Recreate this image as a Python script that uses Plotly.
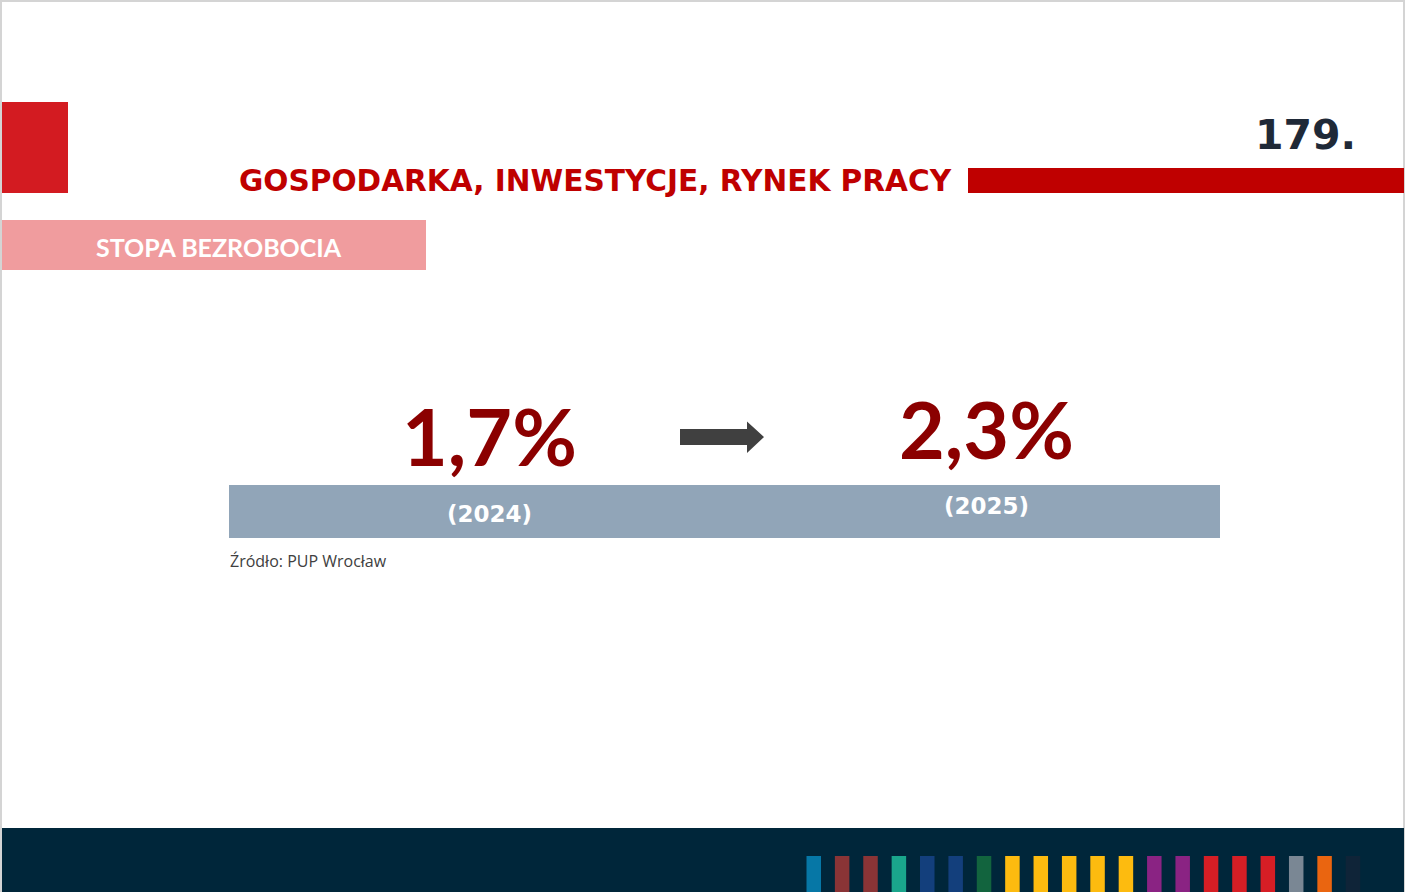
import plotly.graph_objects as go

# data
years = ["2024", "2025"]
rates = [1.7, 2.3]
section_title = "GOSPODARKA, INWESTYCJE, RYNEK PRACY"
page_no = "179."
subtitle = "STOPA BEZROBOCIA"
source = "Źródło: PUP Wrocław"
stripe_colors = ["#0677A6", "#8A3436", "#8A3436", "#1AA68C", "#133F7C", "#133F7C",
                 "#12643E", "#FDBB0F", "#FDBB0F", "#FDBB0F", "#FDBB0F", "#FDBB0F",
                 "#8A2383", "#8A2383", "#D61E25", "#D61E25", "#D61E25", "#7A8794",
                 "#EA6510", "#0F2438"]

W, H = 1405, 892
fig = go.Figure()

shapes = []
def rect(x0, y0, x1, y1, color):
    shapes.append(dict(type="rect", xref="x", yref="y", x0=x0, y0=y0, x1=x1, y1=y1,
                       fillcolor=color, line=dict(width=0), layer="below"))

# slide frame
rect(0, 0, 2, H, "#D4D4D4")
rect(0, 0, W, 2, "#D4D4D4")
rect(W - 2, 0, W, H, "#D4D4D4")
# header
rect(2, 102, 68, 193, "#D31B21")
rect(968, 168, W - 1, 193, "#BF0000")
rect(2, 220, 426, 270, "#F09C9E")
# year band
rect(229, 485, 1220, 538, "#91A5B8")
# footer
rect(2, 828, W - 1, H, "#00263A")
for i, c in enumerate(stripe_colors):
    x0 = 806.5 + 28.38 * i
    rect(x0, 856, x0 + 14.5, H, c)

# arrow
shapes.append(dict(type="path", xref="x", yref="y",
                   path="M680,429 L747,429 L747,421.5 L764,437 L747,453 L747,445 L680,445 Z",
                   fillcolor="#404040", line=dict(width=0)))

ann = []
ann.append(dict(x=237, y=181, text="<b>" + section_title + "</b>", xanchor="left", yanchor="middle",
                font=dict(family="DejaVu Sans", size=29.6, color="#BF0000")))
ann.append(dict(x=1358, y=135, text="<b>" + page_no + "</b>", xanchor="right", yanchor="middle",
                font=dict(family="DejaVu Sans", size=41, color="#1F2937")))
ann.append(dict(x=219, y=247, text="<b>" + subtitle + "</b>", xanchor="center", yanchor="middle",
                font=dict(family="Lato", size=25, color="white")))

value_x = [489, 986]
value_y = [435, 428]
year_y = [514, 506]
for k in range(len(years)):
    label = f"{rates[k]:.1f}".replace(".", ",") + "%"
    ann.append(dict(x=value_x[k], y=value_y[k], text="<b>" + label + "</b>",
                    xanchor="center", yanchor="middle",
                    font=dict(family="Lato", size=79, color="#8B0000")))
    ann.append(dict(x=value_x[k], y=year_y[k], text="<b>(" + years[k] + ")</b>",
                    xanchor="center", yanchor="middle",
                    font=dict(family="DejaVu Sans", size=23, color="white")))

ann.append(dict(x=228, y=561, text=source, xanchor="left", yanchor="middle",
                font=dict(family="Open Sans", size=16, color="#404040")))

for a in ann:
    a.update(xref="x", yref="y", showarrow=False)

fig.update_layout(
    width=W, height=H, margin=dict(l=0, r=0, t=0, b=0),
    paper_bgcolor="white", plot_bgcolor="white",
    xaxis=dict(range=[0, W], visible=False, fixedrange=True),
    yaxis=dict(range=[H, 0], visible=False, fixedrange=True),
    shapes=shapes, annotations=ann, showlegend=False,
)

# drop the browser's default body margin so the slide sits at the page corner
fig.write_html("out.html", config={"displayModeBar": False},
               post_script="document.body.style.margin='0';")
